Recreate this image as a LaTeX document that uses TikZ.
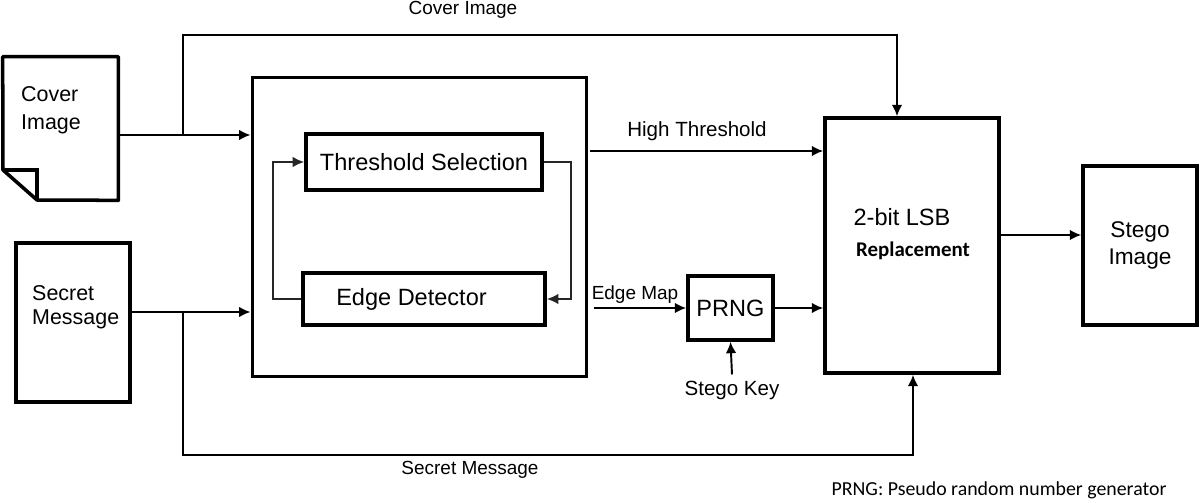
\documentclass[tikz,border=0pt]{standalone}
\usepackage{fontspec}
\setmainfont{Liberation Sans}
\newfontfamily\calibri{Carlito}
\usetikzlibrary{arrows.meta}
\tikzset{
	box/.style={draw, line width=2pt, inner sep=0pt},
	link/.style={line width=1.1pt},
	loopline/.style={line width=0.9pt, black!85},
	bigfont/.style={font=\fontsize{13.4}{16}\selectfont},
	midfont/.style={font=\fontsize{12.2}{15}\selectfont},
	smallfont/.style={font=\fontsize{11.7}{14}\selectfont},
	tinyfont/.style={font=\fontsize{10.8}{13}\selectfont}
}

\begin{document}
\begin{tikzpicture}[x=0.02cm, y=-0.02cm, >={Latex[length=6.5pt,width=6pt]}]
			%%%%% START %%%%%
			\useasboundingbox (0,0) rectangle (1200,503);
			
			% inputs
			\node[minimum width=2.3cm, minimum height=2.86cm, inner sep=0pt] (coverdoc) at (60.5,128.5) {};
			\draw[line width=2pt, line join=round] (coverdoc.north west) -- (coverdoc.north east) -- (coverdoc.south east) -- (37,200) -- (3,170) -- cycle;
			\draw[line width=2pt] (3,170) -- (37,170) -- (37,200);
			\node[midfont, align=left, anchor=west, font=\fontsize{12.2}{16}\selectfont] (covertxt) at (15,110) {Cover\\Image};
			
			\node[box, minimum width=2.28cm, minimum height=3.18cm] (secret) at (73,322.5) {};
			\node[midfont, align=left, anchor=west, font=\fontsize{12.2}{13.6}\selectfont] (secrettxt) at (26,307) {Secret\\Message};
			
			% edge detection block
			\node[box, line width=1.7pt, minimum width=6.7cm, minimum height=6cm] (outer) at (419.5,227) {};
			\node[box, line width=2.2pt, bigfont, minimum width=4.72cm, minimum height=1.12cm] (thresh) at (424,162) {Threshold Selection};
			\node[box, line width=2.2pt, bigfont, minimum width=4.84cm, minimum height=1.04cm] (edge) at (424,299) {Edge Detector\kern0.5cm};
			\draw[loopline, ->] (thresh.east) -- ++(27,0) |- (edge.east);
			\draw[loopline, ->] (edge.west) -- ++(-28,0) |- (thresh.west);
			
			% embedding
			\node[box, minimum width=3.48cm, minimum height=5.1cm] (lsb) at (912,245.5) {};
			\node[bigfont] (lsbtxt) at (902,217) {2-bit LSB};
			\node[font=\calibri\bfseries\fontsize{11.9}{14}\selectfont] (repltxt) at (913,251) {Replacement};
			\node[box, bigfont, minimum width=1.7cm, minimum height=1.28cm] (prng) at (730.5,308) {PRNG};
			\node[smallfont] (stegokey) at (732,390) {Stego Key};
			\node[box, bigfont, align=center, font=\fontsize{12.9}{15.3}\selectfont, minimum width=2.28cm, minimum height=3.18cm] (stego) at (1140,245.5) {Stego\\Image};
			
			% connectors
			\coordinate (cj) at (183,135);
			\coordinate (ctop) at (897,35);
			\coordinate (sj) at (183,312);
			\coordinate (sbot) at (913,455);
			\coordinate (ht) at (590,151);
			\coordinate (lsbout) at (999,235);
			
			\draw[link, ->] (coverdoc.east |- cj) -- (cj) -- (outer.west |- cj);
			\draw[link, ->] (cj) |- (ctop) -- (ctop |- lsb.north);
			\draw[link, ->] (secret.east |- sj) -- (sj) -- (outer.west |- sj);
			\draw[link, ->] (sj) |- (sbot) -- (sbot |- lsb.south);
			\draw[link, ->] (ht) -- (ht -| lsb.west);
			\draw[link, ->, shorten <=3pt] (outer.east |- prng.west) -- (prng.west);
			\draw[link, ->] (prng.east) -- (prng.east -| lsb.west);
			\draw[link, ->] (stegokey.north) -- (prng.south);
			\draw[link, ->] (lsbout) -- (lsbout -| stego.west);
			
			% labels
			\node[tinyfont] (covertop) at (463,10) {Cover Image};
			\node[tinyfont] (secretbot) at (470,470) {Secret Message};
			\node[smallfont] (highlbl) at (697,131) {High Threshold};
			\node[tinyfont] (maplbl) at (635,295) {Edge Map};
			\node[font=\calibri\fontsize{11.3}{13}\selectfont] (footnote) at (999,490) {PRNG: Pseudo random number generator};
			%%%%% END %%%%%
\end{tikzpicture}
\end{document}
